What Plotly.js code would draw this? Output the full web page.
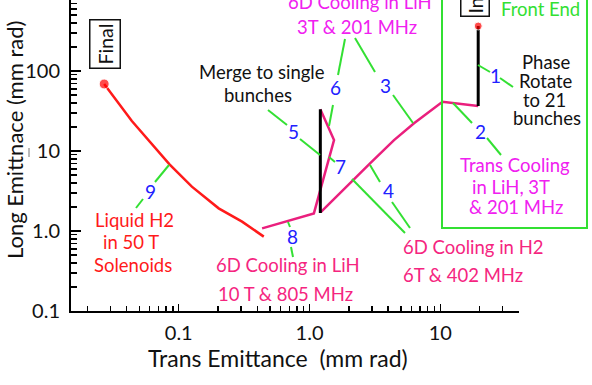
<!DOCTYPE html>
<html>
<head>
<meta charset="utf-8">
<script src="https://cdn.plot.ly/plotly-3.0.1.min.js"></script>
<style>
  html, body { margin: 0; padding: 0; background: #fff; }
  #chart { width: 592px; height: 385px; }
</style>
</head>
<body>
<div id="chart"></div>
<script>
(function () {
  "use strict";

  // ---- data (trans emittance vs long emittance, mm rad) -------------------
  var phaseRotateX = [19.5, 19.5];
  var phaseRotateY = [365, 36.5];

  var frontCoolX = [19.5, 10.4, 6.3, 4.43, 2.93, 1.22];
  var frontCoolY = [36.5, 41.3, 22.2, 13.7, 7.1, 1.72];

  var mergeX = [1.21, 1.21];
  var mergeY = [33.2, 1.68];

  var lihCoolX = [1.21, 1.54, 1.08, 0.434];
  var lihCoolY = [33.2, 13.7, 1.66, 1.08];

  var liquidH2X = [0.447, 0.305, 0.202, 0.126, 0.085, 0.0438, 0.0269];
  var liquidH2Y = [0.85, 1.31, 1.92, 3.58, 6.82, 23.7, 68.8];

  var endpointX = [19.5, 0.0269];
  var endpointY = [365, 68.8];

  var xTickVals = [0.1, 1, 10];
  var xTickText = ["0.1", "1.0", "10"];
  var yTickVals = [0.1, 1, 10, 100];
  var yTickText = ["0.1", "1.0", "10", "100"];

  // ---- styles ---------------------------------------------------------------
  var FONT = "Lato, 'Open Sans', sans-serif";
  var RED = "#ff1a1a";
  var PINK = "#ea1f7d";
  var PINK_TXT = "#f5257f";
  var MAGENTA = "#f020f0";
  var BLUE = "#2121ff";
  var GREEN = "#33e033";
  var LBL = 18.5;

  // plot area in pixels: left 71, right 519, top 0, bottom 311
  var L = 71, R = 519, T = 0, B = 311;
  function px(x) { return (x - L) / (R - L); }
  function py(y) { return (B - y) / (B - T); }

  function line(x, y, color, width) {
    return {
      type: "scatter", mode: "lines", x: x, y: y,
      line: { color: color, width: width },
      hoverinfo: "skip", showlegend: false
    };
  }

  var traces = [
    line(liquidH2X, liquidH2Y, RED, 2.5),
    line(lihCoolX, lihCoolY, PINK, 2.5),
    line(frontCoolX, frontCoolY, PINK, 2.5),
    line(mergeX, mergeY, "#000", 3),
    line(phaseRotateX, phaseRotateY, "#000", 3),
    {
      type: "scatter", mode: "markers", x: endpointX, y: endpointY,
      marker: { color: "#ff0000", size: [8, 10] },
      hoverinfo: "skip", showlegend: false
    }
  ];

  // green leader lines, each split around its stage number
  var leaders = [
    [478, 65, 490, 72], [500, 78, 513, 87],
    [453, 103, 472, 123], [487, 138, 501, 155],
    [355, 38, 375, 72], [393, 95, 413, 123],
    [370, 165, 380, 182], [392, 202, 410, 228],
    [268, 110, 287, 125], [300, 139, 320, 155],
    [345, 39, 338, 75], [333, 105, 329, 126],
    [329, 157, 335, 162], [352, 179, 405, 233],
    [288, 222, 290, 227], [291, 247, 293, 257],
    [169, 165, 155, 182], [143, 199, 136, 208]
  ];
  var shapes = leaders.map(function (s) {
    return {
      type: "line", xref: "paper", yref: "paper",
      x0: px(s[0]), y0: py(s[1]), x1: px(s[2]), y1: py(s[3]),
      line: { color: GREEN, width: 2 }
    };
  });
  // Front End box
  shapes.push({
    type: "rect", xref: "paper", yref: "paper",
    x0: px(442), x1: px(587), y0: py(228), y1: py(-10),
    line: { color: GREEN, width: 2 }, fillcolor: "rgba(0,0,0,0)"
  });
  // small stray mark left of the "10" label
  shapes.push({
    type: "line", xref: "paper", yref: "paper",
    x0: px(29), x1: px(29), y0: py(148), y1: py(157),
    line: { color: "#777", width: 1 }
  });

  function txt(text, x, y, color, size, anchor) {
    return {
      xref: "paper", yref: "paper", x: px(x), y: py(y),
      text: text, showarrow: false,
      xanchor: anchor || "center", yanchor: "middle",
      font: { family: FONT, size: size, color: color }
    };
  }

  var annotations = [
    // stage numbers
    txt("1", 495, 75, BLUE, 19),
    txt("2", 480, 131, BLUE, 19),
    txt("3", 385, 85, BLUE, 19),
    txt("4", 388, 190, BLUE, 19),
    txt("5", 293, 131, BLUE, 19),
    txt("6", 335, 88, BLUE, 19),
    txt("7", 340, 166, BLUE, 19),
    txt("8", 292, 237, BLUE, 19),
    txt("9", 150, 191, BLUE, 19),
    // stage descriptions
    txt("Front End", 540, 9, GREEN, LBL),
    txt("6D Cooling in LiH", 360, 2, MAGENTA, LBL),
    txt("3T &amp; 201 MHz", 357, 27, MAGENTA, LBL),
    txt("Merge to single", 262, 72, "#111", LBL),
    txt("bunches", 258, 95, "#111", LBL),
    txt("Phase", 546, 62, "#111", LBL),
    txt("Rotate", 546, 81, "#111", LBL),
    txt("to 21", 544, 100, "#111", LBL),
    txt("bunches", 547, 118, "#111", LBL),
    txt("Trans Cooling", 515, 165, MAGENTA, LBL),
    txt("in LiH, 3T", 511, 187, MAGENTA, LBL),
    txt("&amp; 201 MHz", 516, 207, MAGENTA, LBL),
    txt("6D Cooling in H2", 401, 247, PINK_TXT, LBL, "left"),
    txt("6T &amp; 402 MHz", 401, 275, PINK_TXT, LBL, "left"),
    txt("6D Cooling in LiH", 288, 265, PINK_TXT, LBL),
    txt("10 T &amp; 805 MHz", 285, 294, PINK_TXT, LBL),
    txt("Liquid H2", 134, 220, RED, LBL),
    txt("in 50 T", 131, 242, RED, LBL),
    txt("Solenoids", 133, 265, RED, LBL),
    // axis titles
    txt("Trans Emittance\u00a0 (mm rad)", 278, 358, "#111", 23),
    Object.assign(txt("Long Emittnace (mm rad)", 14, 140, "#111", 22), { textangle: -90 }),
    // boxed endpoint tags
    Object.assign(txt("Final", 105, 44, "#111", 19.5), {
      textangle: -90, bordercolor: "#111", borderwidth: 1.5, borderpad: 3, bgcolor: "#fff"
    }),
    Object.assign(txt("Initial", 475, 17, "#111", 19.5), {
      yanchor: "bottom",
      textangle: -90, bordercolor: "#111", borderwidth: 1.5, borderpad: 2, bgcolor: "#fff"
    })
  ];

  var axisCommon = {
    type: "log",
    showgrid: false,
    zeroline: false,
    showline: true,
    linecolor: "#000",
    linewidth: 2,
    ticks: "inside",
    tickcolor: "#000",
    tickwidth: 1.5,
    tickmode: "array",
    tickfont: { family: FONT, size: 20, color: "#111" },
    minor: { ticks: "inside", dtick: "D1", ticklen: 5, tickcolor: "#000", tickwidth: 1.5 }
  };

  var layout = {
    width: 592,
    height: 385,
    margin: { l: L, r: 592 - R, t: T, b: 385 - B },
    paper_bgcolor: "#fff",
    plot_bgcolor: "#fff",
    showlegend: false,
    xaxis: Object.assign({}, axisCommon, {
      range: [Math.log10(0.015), Math.log10(40)],
      tickvals: xTickVals,
      ticktext: xTickText,
      ticklen: 7,
      ticklabelstandoff: 3
    }),
    yaxis: Object.assign({}, axisCommon, {
      range: [-1, 2.8875],
      tickvals: yTickVals,
      ticktext: yTickText,
      ticklen: 10,
      ticklabelstandoff: 5,
      minor: { ticks: "inside", dtick: "D1", ticklen: 6, tickcolor: "#000", tickwidth: 1.5 }
    }),
    shapes: shapes,
    annotations: annotations
  };

  Plotly.newPlot("chart", traces, layout, { displayModeBar: false, staticPlot: true });
})();
</script>
</body>
</html>
